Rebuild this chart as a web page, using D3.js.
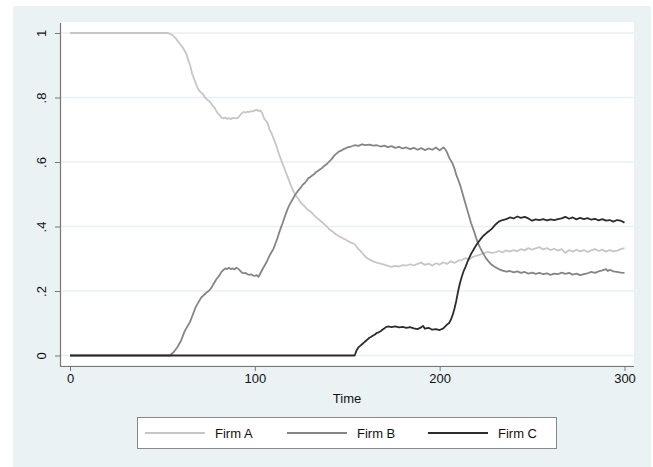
<!DOCTYPE html>
<html>
<head>
<meta charset="utf-8">
<script src="https://cdn.jsdelivr.net/npm/d3@7"></script>
<style>
  html, body { margin: 0; padding: 0; background: #ffffff; }
  svg { display: block; font-family: "Liberation Sans", Arial, Helvetica, sans-serif; }
</style>
</head>
<body>
<svg id="chart" width="653" height="467"></svg>
<script>
// Market shares over time, [time, share]
const firmA = [[0,1],[53,1],[55,0.995],[57,0.985],[59,0.97],[61,0.955],[63,0.935],[64,0.915],[65,0.90],[66,0.875],[67,0.86],[68,0.845],[69,0.83],[70,0.82],[71,0.815],[72,0.81],[73,0.80],[74,0.795],[75,0.79],[76,0.785],[77,0.775],[78,0.77],[79,0.76],[80,0.75],[81,0.745],[82,0.737],[83,0.735],[84,0.738],[85,0.734],[86,0.736],[87,0.733],[88,0.736],[89,0.737],[90,0.735],[91,0.737],[92,0.745],[93,0.752],[94,0.755],[95,0.753],[96,0.756],[97,0.755],[98,0.758],[99,0.757],[100,0.76],[101,0.762],[102,0.758],[103,0.76],[104,0.752],[105,0.735],[106,0.728],[107,0.72],[108,0.70],[109,0.69],[110,0.675],[111,0.66],[112,0.645],[113,0.625],[114,0.61],[115,0.595],[116,0.58],[117,0.565],[118,0.55],[119,0.535],[120,0.52],[121,0.508],[122,0.497],[123,0.49],[124,0.482],[125,0.473],[126,0.468],[127,0.462],[128,0.455],[129,0.45],[130,0.447],[131,0.442],[132,0.435],[133,0.43],[134,0.425],[135,0.42],[136,0.415],[137,0.41],[138,0.405],[139,0.40],[140,0.393],[141,0.388],[142,0.385],[143,0.38],[144,0.375],[145,0.372],[146,0.368],[147,0.366],[148,0.362],[149,0.36],[150,0.356],[151,0.353],[152,0.35],[153,0.348],[154,0.345],[155,0.338],[156,0.33],[157,0.325],[158,0.318],[159,0.312],[160,0.305],[162,0.298],[164,0.292],[166,0.288],[168,0.285],[170,0.282],[172,0.278],[174,0.275],[176,0.278],[178,0.276],[180,0.28],[182,0.279],[184,0.283],[186,0.279],[188,0.284],[190,0.288],[192,0.281],[194,0.285],[196,0.279],[198,0.286],[200,0.282],[202,0.289],[204,0.284],[206,0.292],[208,0.287],[210,0.294],[212,0.296],[214,0.302],[216,0.298],[218,0.306],[220,0.31],[222,0.313],[224,0.317],[226,0.321],[228,0.318],[230,0.32],[232,0.324],[234,0.32],[236,0.326],[238,0.322],[240,0.327],[242,0.323],[244,0.33],[246,0.326],[248,0.333],[250,0.328],[252,0.332],[254,0.336],[256,0.329],[258,0.333],[260,0.327],[262,0.331],[264,0.325],[266,0.33],[268,0.318],[270,0.327],[272,0.322],[274,0.328],[276,0.323],[278,0.327],[280,0.321],[282,0.326],[284,0.33],[286,0.324],[288,0.328],[290,0.322],[292,0.327],[294,0.323],[296,0.325],[298,0.33],[300,0.333]];

const firmB = [[0,0],[54,0],[56,0.01],[58,0.025],[60,0.045],[61,0.06],[62,0.075],[63,0.085],[64,0.095],[65,0.105],[66,0.12],[67,0.135],[68,0.15],[69,0.16],[70,0.17],[71,0.18],[72,0.185],[73,0.19],[74,0.196],[75,0.2],[76,0.206],[77,0.215],[78,0.225],[79,0.235],[80,0.242],[81,0.25],[82,0.26],[83,0.265],[84,0.27],[85,0.268],[86,0.272],[87,0.268],[88,0.27],[89,0.267],[90,0.272],[91,0.269],[92,0.263],[93,0.257],[94,0.255],[95,0.256],[96,0.252],[97,0.25],[98,0.252],[99,0.248],[100,0.247],[101,0.249],[102,0.244],[103,0.255],[104,0.266],[105,0.276],[106,0.286],[107,0.298],[108,0.31],[109,0.32],[110,0.33],[111,0.345],[112,0.36],[113,0.378],[114,0.395],[115,0.41],[116,0.427],[117,0.443],[118,0.458],[119,0.47],[120,0.48],[121,0.49],[122,0.5],[123,0.508],[124,0.515],[125,0.522],[126,0.53],[127,0.535],[128,0.542],[129,0.55],[130,0.553],[131,0.558],[132,0.562],[133,0.568],[134,0.572],[135,0.576],[136,0.58],[137,0.585],[138,0.59],[139,0.594],[140,0.6],[141,0.606],[142,0.612],[143,0.62],[144,0.625],[145,0.63],[146,0.634],[147,0.636],[148,0.64],[149,0.642],[150,0.645],[152,0.648],[154,0.652],[156,0.65],[158,0.655],[160,0.652],[162,0.654],[164,0.651],[166,0.652],[168,0.648],[170,0.651],[172,0.646],[174,0.649],[176,0.644],[178,0.647],[180,0.642],[182,0.645],[184,0.64],[186,0.644],[188,0.638],[190,0.643],[192,0.637],[194,0.642],[196,0.638],[198,0.645],[200,0.636],[202,0.645],[203,0.64],[204,0.63],[205,0.615],[206,0.605],[207,0.595],[208,0.58],[209,0.56],[210,0.545],[211,0.53],[212,0.51],[213,0.49],[214,0.47],[215,0.45],[216,0.43],[217,0.41],[218,0.395],[219,0.378],[220,0.36],[221,0.345],[222,0.333],[223,0.322],[224,0.312],[225,0.302],[226,0.295],[227,0.288],[228,0.282],[229,0.278],[230,0.274],[232,0.268],[234,0.263],[236,0.26],[238,0.262],[240,0.258],[242,0.261],[244,0.256],[246,0.259],[248,0.254],[250,0.257],[252,0.253],[254,0.256],[256,0.252],[258,0.255],[260,0.25],[262,0.254],[264,0.252],[266,0.257],[268,0.253],[270,0.256],[272,0.251],[274,0.254],[276,0.249],[278,0.252],[280,0.255],[282,0.259],[284,0.256],[286,0.261],[288,0.264],[290,0.268],[291,0.262],[292,0.266],[294,0.261],[296,0.259],[298,0.257],[300,0.256]];

const firmC = [[0,0],[154,0],[155,0.015],[156,0.025],[157,0.03],[158,0.035],[159,0.04],[160,0.045],[161,0.05],[162,0.055],[163,0.058],[164,0.062],[165,0.065],[166,0.07],[167,0.072],[168,0.075],[169,0.08],[170,0.084],[171,0.088],[172,0.09],[174,0.088],[176,0.09],[178,0.087],[180,0.089],[182,0.086],[184,0.088],[186,0.084],[188,0.082],[190,0.087],[191,0.092],[192,0.083],[194,0.086],[196,0.08],[198,0.082],[200,0.079],[202,0.084],[203,0.09],[204,0.096],[205,0.1],[206,0.11],[207,0.125],[208,0.145],[209,0.17],[210,0.2],[211,0.225],[212,0.245],[213,0.262],[214,0.275],[215,0.29],[216,0.303],[217,0.315],[218,0.325],[219,0.335],[220,0.344],[221,0.352],[222,0.36],[223,0.367],[224,0.373],[225,0.378],[226,0.383],[227,0.387],[228,0.392],[229,0.398],[230,0.405],[231,0.41],[232,0.415],[234,0.42],[236,0.423],[238,0.428],[240,0.425],[242,0.431],[244,0.427],[246,0.43],[248,0.425],[250,0.418],[252,0.422],[254,0.42],[256,0.423],[258,0.419],[260,0.422],[262,0.42],[264,0.423],[266,0.425],[268,0.43],[270,0.424],[272,0.428],[274,0.422],[276,0.427],[278,0.423],[280,0.426],[282,0.421],[284,0.424],[286,0.419],[288,0.423],[290,0.418],[292,0.42],[294,0.415],[296,0.42],[298,0.418],[300,0.412]];

const seriesNames = ["Firm A", "Firm B", "Firm C"];
const seriesColors = ["#c6c6c6", "#858585", "#2c2c2c"];
const xTicks = [0, 100, 200, 300];
const yTicks = [0, 0.2, 0.4, 0.6, 0.8, 1];
const yTickLabels = ["0", ".2", ".4", ".6", ".8", "1"];
const xTitle = "Time";

const svg = d3.select("#chart");

// graph region and plot region
svg.append("rect").attr("x", 13).attr("y", 6).attr("width", 638).attr("height", 461).attr("fill", "#eaf2f3");
const plot = { left: 60, right: 634, top: 22, bottom: 365 };
svg.append("rect")
  .attr("x", plot.left).attr("y", plot.top)
  .attr("width", plot.right - plot.left).attr("height", plot.bottom - plot.top)
  .attr("fill", "#ffffff");

const x = d3.scaleLinear().domain([0, 300]).range([70, 624.5]);
const y = d3.scaleLinear().domain([0, 1]).range([355.5, 33]);

// horizontal grid
svg.append("g").selectAll("line").data(yTicks).join("line")
  .attr("x1", plot.left).attr("x2", plot.right)
  .attr("y1", d => y(d)).attr("y2", d => y(d))
  .attr("stroke", "#e8f1f3").attr("stroke-width", 1.5);

// series lines
const line = d3.line().x(d => x(d[0])).y(d => y(d[1]));
[firmA, firmB, firmC].forEach((data, i) => {
  svg.append("path").datum(data)
    .attr("d", line)
    .attr("fill", "none")
    .attr("stroke", seriesColors[i])
    .attr("stroke-width", 1.8)
    .attr("stroke-linejoin", "round");
});

// y axis
const yAxis = d3.axisLeft(y).tickValues(yTicks).tickFormat((d, i) => yTickLabels[i]).tickSize(5).tickPadding(8);
const gy = svg.append("g").attr("transform", `translate(${plot.left},0)`).call(yAxis);
gy.select(".domain").attr("d", `M0.5,${plot.top + 1}V${plot.bottom + 1}`).attr("stroke", "#777").attr("stroke-width", 1.2);
gy.selectAll(".tick line").attr("stroke", "#777");
gy.selectAll(".tick text")
  .attr("font-size", 13).attr("fill", "#111")
  .attr("text-anchor", "middle").attr("x", 0).attr("dy", 0)
  .attr("transform", "translate(-19,0) rotate(-90)")
  .attr("dominant-baseline", "central");

// x axis
const xAxis = d3.axisBottom(x).tickValues(xTicks).tickSize(5).tickPadding(3);
const gx = svg.append("g").attr("transform", `translate(0,${plot.bottom + 1})`).call(xAxis);
gx.select(".domain").attr("d", `M${plot.left},0.5H${plot.right}`).attr("stroke", "#777").attr("stroke-width", 1.2);
gx.selectAll(".tick line").attr("stroke", "#777");
gx.selectAll(".tick text").attr("font-size", 13).attr("fill", "#111");

svg.append("text").attr("x", 347).attr("y", 403).attr("text-anchor", "middle")
  .attr("font-size", 13).attr("fill", "#111").text(xTitle);

// legend
svg.append("rect").attr("x", 137.5).attr("y", 417.5).attr("width", 419).attr("height", 31)
  .attr("fill", "#ffffff").attr("stroke", "#888").attr("stroke-width", 1);
const legendX = [145, 287, 428];
seriesNames.forEach((name, i) => {
  const g = svg.append("g").attr("transform", `translate(${legendX[i]},433)`);
  g.append("line").attr("x1", 0).attr("x2", 60).attr("y1", 0).attr("y2", 0)
    .attr("stroke", seriesColors[i]).attr("stroke-width", 1.8);
  g.append("text").attr("x", 70).attr("y", 0).attr("dy", "0.35em")
    .attr("font-size", 13).attr("fill", "#111").text(name);
});
</script>
</body>
</html>
